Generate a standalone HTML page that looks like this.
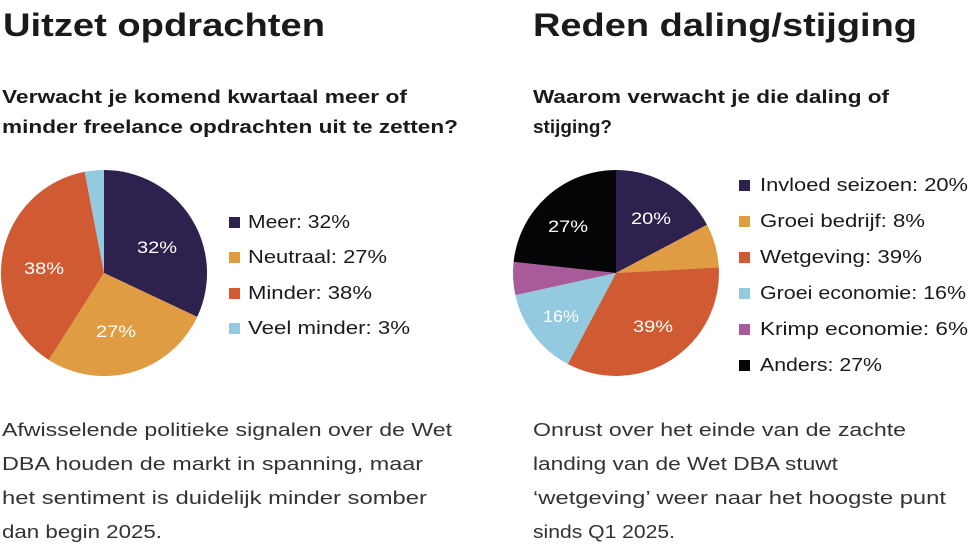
<!DOCTYPE html>
<html><head><meta charset="utf-8"><style>
body{margin:0;width:979px;height:547px;background:#fff;overflow:hidden;font-family:"Liberation Sans",sans-serif;color:#1a1a1a}
</style></head><body>
<svg width="979" height="547" viewBox="0 0 979 547" xmlns="http://www.w3.org/2000/svg" font-family="Liberation Sans, sans-serif">
<g fill="#1a1a1a" lengthAdjust="spacingAndGlyphs">
<text x="3" y="36" font-size="32" font-weight="bold" textLength="322" lengthAdjust="spacingAndGlyphs">Uitzet opdrachten</text>
<text x="533" y="36" font-size="32" font-weight="bold" textLength="384" lengthAdjust="spacingAndGlyphs">Reden daling/stijging</text>
<text x="2" y="103" font-size="18" font-weight="bold" textLength="405" lengthAdjust="spacingAndGlyphs">Verwacht je komend kwartaal meer of</text>
<text x="2" y="133" font-size="18" font-weight="bold" textLength="456" lengthAdjust="spacingAndGlyphs">minder freelance opdrachten uit te zetten?</text>
<text x="533" y="103" font-size="18" font-weight="bold" textLength="356" lengthAdjust="spacingAndGlyphs">Waarom verwacht je die daling of</text>
<text x="533" y="133" font-size="18" font-weight="bold" textLength="79" lengthAdjust="spacingAndGlyphs">stijging?</text>
</g>
<!-- pie 1 -->
<path d="M104,273 L104,170 A103,103 0 0 1 197.2,316.9 Z" fill="#2e214d"/>
<path d="M104,273 L197.2,316.9 A103,103 0 0 1 48.8,360 Z" fill="#e09c42"/>
<path d="M104,273 L48.8,360 A103,103 0 0 1 84.7,171.8 Z" fill="#d05b33"/>
<path d="M104,273 L84.7,171.8 A103,103 0 0 1 104,170 Z" fill="#93cae0"/>
<g fill="#fff" font-size="17" text-anchor="middle">
<text x="157" y="253" textLength="40" lengthAdjust="spacingAndGlyphs">32%</text><text x="116" y="337" textLength="40" lengthAdjust="spacingAndGlyphs">27%</text><text x="44" y="274" textLength="40" lengthAdjust="spacingAndGlyphs">38%</text>
</g>
<g font-size="18" fill="#1a1a1a">
<rect x="229" y="217" width="11" height="11" fill="#2e214d"/><text x="248" y="228" textLength="102" lengthAdjust="spacingAndGlyphs">Meer: 32%</text>
<rect x="229" y="252" width="11" height="11" fill="#e09c42"/><text x="248" y="263" textLength="139" lengthAdjust="spacingAndGlyphs">Neutraal: 27%</text>
<rect x="229" y="288" width="11" height="11" fill="#d05b33"/><text x="248" y="299" textLength="124" lengthAdjust="spacingAndGlyphs">Minder: 38%</text>
<rect x="229" y="323" width="11" height="11" fill="#93cae0"/><text x="248" y="334" textLength="162" lengthAdjust="spacingAndGlyphs">Veel minder: 3%</text>
</g>
<!-- pie 2 -->
<path d="M616,273 L616,170 A103,103 0 0 1 707,224.8 Z" fill="#2e214d"/>
<path d="M616,273 L707,224.8 A103,103 0 0 1 718.8,267.4 Z" fill="#e09c42"/>
<path d="M616,273 L718.8,267.4 A103,103 0 0 1 567.8,364 Z" fill="#d05b33"/>
<path d="M616,273 L567.8,364 A103,103 0 0 1 515.4,295.1 Z" fill="#93cae0"/>
<path d="M616,273 L515.4,295.1 A103,103 0 0 1 513.6,261.9 Z" fill="#a85a9a"/>
<path d="M616,273 L513.6,261.9 A103,103 0 0 1 616,170 Z" fill="#050507"/>
<g fill="#fff" font-size="17" text-anchor="middle">
<text x="651" y="224" textLength="40" lengthAdjust="spacingAndGlyphs">20%</text><text x="568" y="232" textLength="40" lengthAdjust="spacingAndGlyphs">27%</text><text x="561" y="322" textLength="36" lengthAdjust="spacingAndGlyphs">16%</text><text x="653" y="332" textLength="40" lengthAdjust="spacingAndGlyphs">39%</text>
</g>
<g font-size="18" fill="#1a1a1a">
<rect x="739" y="180" width="11" height="11" fill="#2e214d"/><text x="760" y="191" textLength="208" lengthAdjust="spacingAndGlyphs">Invloed seizoen: 20%</text>
<rect x="739" y="216" width="11" height="11" fill="#e09c42"/><text x="760" y="227" textLength="165" lengthAdjust="spacingAndGlyphs">Groei bedrijf: 8%</text>
<rect x="739" y="252" width="11" height="11" fill="#d05b33"/><text x="760" y="263" textLength="162" lengthAdjust="spacingAndGlyphs">Wetgeving: 39%</text>
<rect x="739" y="288" width="11" height="11" fill="#93cae0"/><text x="760" y="299" textLength="206" lengthAdjust="spacingAndGlyphs">Groei economie: 16%</text>
<rect x="739" y="324" width="11" height="11" fill="#a85a9a"/><text x="760" y="335" textLength="208" lengthAdjust="spacingAndGlyphs">Krimp economie: 6%</text>
<rect x="739" y="360" width="11" height="11" fill="#050507"/><text x="760" y="371" textLength="122" lengthAdjust="spacingAndGlyphs">Anders: 27%</text>
</g>
<g font-size="18" fill="#333">
<text x="2" y="436" textLength="450" lengthAdjust="spacingAndGlyphs">Afwisselende politieke signalen over de Wet</text>
<text x="2" y="470" textLength="421" lengthAdjust="spacingAndGlyphs">DBA houden de markt in spanning, maar</text>
<text x="2" y="504" textLength="425" lengthAdjust="spacingAndGlyphs">het sentiment is duidelijk minder somber</text>
<text x="2" y="538" textLength="160" lengthAdjust="spacingAndGlyphs">dan begin 2025.</text>
<text x="533" y="436" textLength="373" lengthAdjust="spacingAndGlyphs">Onrust over het einde van de zachte</text>
<text x="533" y="470" textLength="305" lengthAdjust="spacingAndGlyphs">landing van de Wet DBA stuwt</text>
<text x="533" y="504" textLength="413" lengthAdjust="spacingAndGlyphs">‘wetgeving’ weer naar het hoogste punt</text>
<text x="533" y="538" textLength="142" lengthAdjust="spacingAndGlyphs">sinds Q1 2025.</text>
</g>
</svg>
</body></html>
